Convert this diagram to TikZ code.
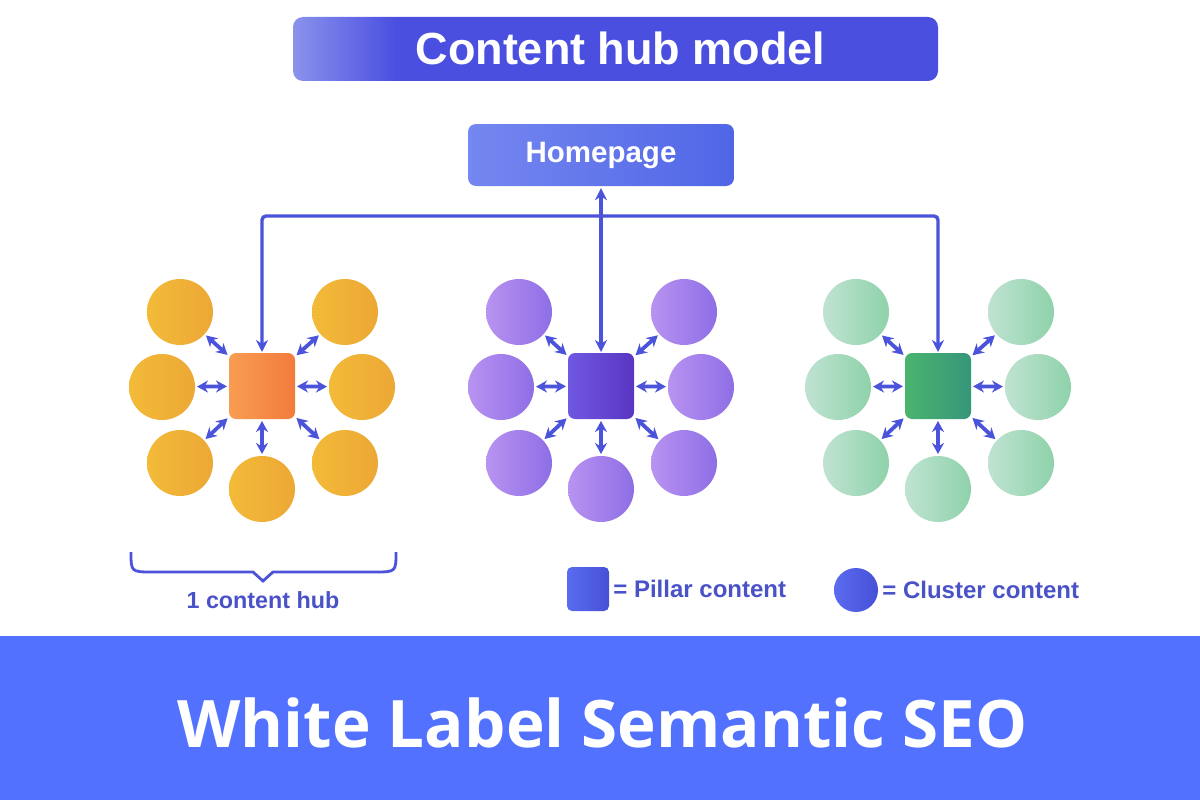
\documentclass[tikz,border=0pt]{standalone}
\usepackage{fontspec}
\setmainfont{Liberation Sans}
\newfontfamily\bannerfont{Open Sans}
\usetikzlibrary{arrows.meta,positioning}

\definecolor{linkblue}{HTML}{4A53D9}
\definecolor{textblue}{HTML}{4A52C8}
\definecolor{bannerblue}{HTML}{5271FF}
\definecolor{titleA}{HTML}{8A92EC}
\definecolor{titleB}{HTML}{4A4FE0}
\definecolor{homeA}{HTML}{7587F0}
\definecolor{homeB}{HTML}{5066E6}
\definecolor{goldA}{HTML}{F3BA38}
\definecolor{goldB}{HTML}{ECA836}
\definecolor{orangeA}{HTML}{F99D52}
\definecolor{orangeB}{HTML}{F27B3C}
\definecolor{lilacA}{HTML}{B893F1}
\definecolor{lilacB}{HTML}{8E6EE6}
\definecolor{violetA}{HTML}{7058E2}
\definecolor{violetB}{HTML}{5836C2}
\definecolor{mintA}{HTML}{C0E3D2}
\definecolor{mintB}{HTML}{8ED2AA}
\definecolor{greenA}{HTML}{4AB46E}
\definecolor{greenB}{HTML}{36967A}
\definecolor{legendA}{HTML}{5A6CF0}
\definecolor{legendB}{HTML}{4650D6}

\pgfdeclarehorizontalshading{barshade}{100bp}{color(0bp)=(titleA); color(25bp)=(titleA); color(33bp)=(titleB); color(100bp)=(titleB)}

\begin{document}
\begin{tikzpicture}[x=1pt, y=-1pt,
    cluster/.style={circle, minimum size=66pt, inner sep=0pt, outer sep=0pt},
    pillar/.style={rectangle, rounded corners=7pt, minimum size=66pt, inner sep=0pt, outer sep=0pt},
    link/.style={draw=linkblue, line width=3.8pt, {Stealth[length=11pt,width=12pt]}-{Stealth[length=11pt,width=12pt]}, shorten <=2pt, shorten >=2pt},
    wire/.style={draw=linkblue, line width=3.4pt},
    legendtext/.style={font=\bfseries\fontsize{24}{28}\selectfont, text=textblue, inner sep=0pt}
]
    \useasboundingbox (0,0) rectangle (1200,800);
    \fill[white] (0,0) rectangle (1200,800);

    % Title bar
    \node[shade, shading=barshade, rounded corners=10pt, minimum width=645pt, minimum height=64pt, inner sep=0pt] (title) at (615.5,49) {};
    \node[text=white, font=\bfseries\fontsize{45}{50}\selectfont, inner sep=0pt] (titletext) at (620.5,48) {Content hub model};

    % Homepage
    \node[shade, left color=homeA, right color=homeB, rounded corners=8pt, minimum width=266pt, minimum height=62pt,
          inner sep=0pt, text=white, font=\bfseries\fontsize{29.5}{33}\selectfont] (home) at (601,155) {Homepage};

    % Three hubs: pillar square with seven clusters round it
    \foreach \h/\cx/\ca/\cb/\sa/\sb in {hubA/262/goldA/goldB/orangeA/orangeB,
                                        hubB/601/lilacA/lilacB/violetA/violetB,
                                        hubC/938/mintA/mintB/greenA/greenB}{
        \node[pillar, left color=\sa, right color=\sb] (\h) at (\cx,386) {};
        \foreach \dx/\dy [count=\k] in {-82/-74, 83/-74, -100/1, 100/1, -82/77, 83/77, 0/103}{
            \node[cluster, left color=\ca, right color=\cb] (\h\k) at (\cx+\dx,386+\dy) {};
            \draw[link] (\h\k) -- (\h);
        }
    }

    % Links to the homepage
    \coordinate (bus) at (601,216);
    \draw[wire, rounded corners=4pt, {Stealth[length=12pt,width=12pt]}-{Stealth[length=12pt,width=12pt]}, shorten <=1pt, shorten >=1pt]
        (hubA.north) |- (bus) -| (hubC.north);
    \draw[wire, {Stealth[length=12pt,width=12pt]}-{Stealth[length=12pt,width=12pt]}, shorten <=2pt, shorten >=1pt]
        (home.south) -- (hubB.north);

    % Brace under the first hub
    \draw[wire, line width=2.8pt] (131,552) .. controls (131,572) .. (153,572) -- (253,572) -- (263,581) -- (273,572)
        -- (374,572) .. controls (396,572) .. (396,552);
    \node[legendtext, font=\bfseries\fontsize{23.3}{28}\selectfont] (hubcount) at (263,600) {1 content hub};

    % Legend
    \node[shade, left color=legendA, right color=legendB, rounded corners=5pt, minimum width=42pt, minimum height=44pt,
          inner sep=0pt] (legsq) at (588,589) {};
    \node[legendtext, right=4pt of legsq] (legsqtext) {= Pillar content};
    \node[circle, shade, left color=legendA, right color=legendB, minimum size=44pt, inner sep=0pt] (legci) at (856,590) {};
    \node[legendtext, right=4pt of legci] (legcitext) {= Cluster content};

    % Banner
    \node[fill=bannerblue, minimum width=1200pt, minimum height=164pt, inner sep=0pt] (banner) at (600,718) {};
    \node[anchor=base, inner sep=0pt, text=white, font=\bannerfont\bfseries\fontsize{65.5}{70}\selectfont] (seo) at (602.5,747)
        {White Label Semantic SEO};
\end{tikzpicture}
\end{document}
